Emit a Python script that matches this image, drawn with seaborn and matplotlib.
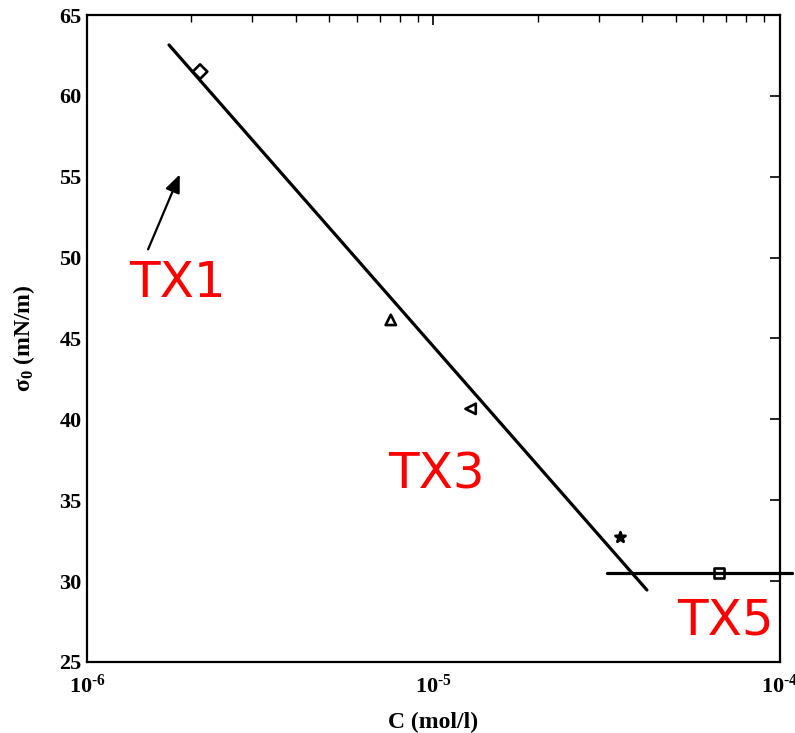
import matplotlib
matplotlib.use("Agg")
import matplotlib.pyplot as plt
import seaborn as sns
import numpy as np
import pandas as pd
from matplotlib.ticker import LogLocator, NullFormatter, FixedLocator

# Measured surface tension of each surfactant
samples = ["TX1", "TX2", "TX3", "TX4", "TX5"]
conc = [2.12e-6, 7.53e-6, 1.28e-5, 3.45e-5, 6.67e-5]
sigma0 = [61.5, 46.15, 40.65, 32.7, 30.5]
marker_map = {"TX1": "D", "TX2": "^", "TX3": "<", "TX4": "*", "TX5": "s"}

# Linear fit in log(C) below the CMC and plateau above it
fit_c = [1.725e-6, 4.13e-5]
fit_sigma = [63.15, 29.45]
plateau_c = [3.16e-5, 1.08e-4]
plateau_sigma = [30.5, 30.5]

# Arrow pointing to the TX1 region
arrow_tail = (1.49e-6, 50.35)
arrow_head = (1.866e-6, 55.3)

# Label positions for the sample names
label_text = ["TX1", "TX3", "TX5"]
label_c = [1.83e-6, 1.017e-5, 6.94e-5]
label_sigma = [48.46, 36.59, 27.57]

yticks = [25, 30, 35, 40, 45, 50, 55, 60, 65]
xticks = [1e-6, 1e-5, 1e-4]
xticklabels = [r"$\mathbf{10}^{\text{-6}}$", r"$\mathbf{10}^{\text{-5}}$",
               r"$\mathbf{10}^{\text{-4}}$"]

sns.set_theme(style="white")
plt.rcParams["font.family"] = ["Liberation Serif", "DejaVu Serif"]
plt.rcParams["mathtext.fontset"] = "custom"
plt.rcParams["mathtext.rm"] = "Liberation Serif:bold"
plt.rcParams["mathtext.bf"] = "Liberation Serif:bold"
plt.rcParams["mathtext.it"] = "Liberation Serif:bold"
plt.rcParams["mathtext.default"] = "bf"
plt.rcParams["axes.unicode_minus"] = False
plt.rcParams["text.color"] = "black"
plt.rcParams["axes.labelcolor"] = "black"
plt.rcParams["xtick.color"] = "black"
plt.rcParams["ytick.color"] = "black"

fig = plt.figure(figsize=(7.95, 7.33), dpi=100)
ax = fig.add_axes([0.1094, 0.0969, 0.8717, 0.8826])

df_pts = pd.DataFrame({"C": conc, "sigma": sigma0, "sample": samples})
df_fit = pd.DataFrame({"C": fit_c, "sigma": fit_sigma})
df_plat = pd.DataFrame({"C": plateau_c, "sigma": plateau_sigma})

sns.lineplot(data=df_fit, x="C", y="sigma", color="black", linewidth=2.3, ax=ax)
sns.lineplot(data=df_plat, x="C", y="sigma", color="black", linewidth=2.3, ax=ax,
             clip_on=False)

for s, m in marker_map.items():
    sub = df_pts[df_pts["sample"] == s]
    sns.scatterplot(data=sub, x="C", y="sigma", marker=m,
                    s=55 if m != "*" else 60,
                    facecolor="none" if m != "*" else "black",
                    edgecolor="black", linewidth=1.9, ax=ax, legend=False, zorder=5)

ax.annotate("", xy=arrow_head, xytext=arrow_tail,
            arrowprops=dict(arrowstyle="-|>,head_length=0.9,head_width=0.38",
                            color="black", lw=1.6))

for t, c, s in zip(label_text, label_c, label_sigma):
    ax.text(c, s, t, color="red", fontsize=36, family="DejaVu Sans",
            ha="center", va="center")

ax.set_xscale("log")
ax.set_xlim(1e-6, 1e-4)
ax.set_ylim(25, 65)
ax.yaxis.set_major_locator(FixedLocator(yticks))
ax.set_xticks(xticks)
ax.set_xticklabels(xticklabels, fontweight="bold")
ax.xaxis.set_minor_locator(LogLocator(base=10, subs=np.arange(2, 10)))
ax.xaxis.set_minor_formatter(NullFormatter())

ax.tick_params(axis="both", which="both", direction="in", top=True, right=True,
               labelsize=16, pad=4)
ax.tick_params(axis="x", which="major", pad=9)
ax.tick_params(which="major", length=7, width=1.2)
ax.tick_params(which="minor", length=5, width=1.0)
for lab in ax.get_yticklabels():
    lab.set_fontweight("bold")

for sp in ax.spines.values():
    sp.set_color("black")
    sp.set_linewidth(1.6)

ax.set_xlabel("C (mol/l)", fontsize=17, fontweight="bold", labelpad=10)
ax.set_ylabel(r"$\mathbf{\sigma_0}$ (mN/m)", fontsize=17, fontweight="bold", labelpad=16)

fig.savefig("out.png", dpi=100)
